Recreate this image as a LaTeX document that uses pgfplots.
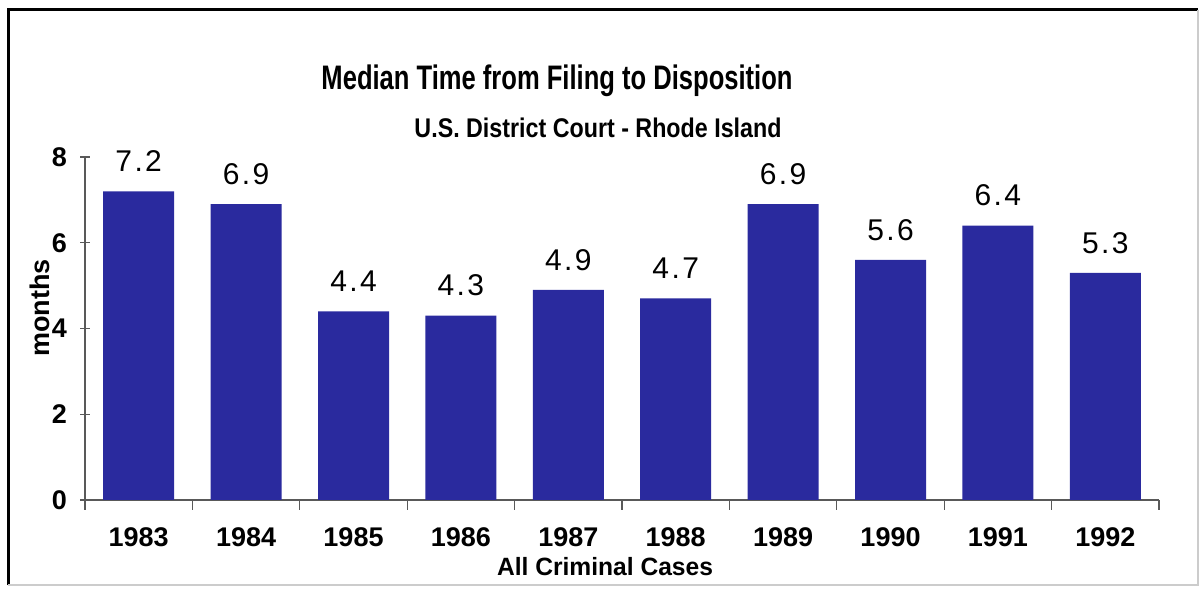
\documentclass[border=0pt]{standalone}
\usepackage{pgfplots}
\pgfplotsset{compat=1.18}
\usepackage{fontspec}
\setmainfont{Liberation Sans}
\usepackage{graphicx}
\definecolor{barblue}{RGB}{42,42,158}
\begin{document}
\begin{tikzpicture}[x=0.5pt,y=0.5pt]
\path[use as bounding box] (0,0) rectangle (1202,588);
\draw[line width=1.5pt] (8,3) -- (8,578) -- (1198,578);
\draw[gray!40, line width=0.6pt] (1198,578) -- (1198,3) -- (8,3);
\begin{axis}[
  at={(42.5pt,44pt)}, anchor=south west,
  scale only axis, width=537pt, height=171.5pt,
  xmin=-0.5, xmax=9.5, ymin=0, ymax=8,
  clip=false,
  axis x line*=bottom, axis y line*=left,
  axis line style={black!65, line width=0.6pt, -},
  xtick={0,...,9},
  xticklabels={1983,1984,1985,1986,1987,1988,1989,1990,1991,1992},
  major x tick style={draw=none},
  minor xtick={-0.5,0.5,...,9.5},
  minor x tick style={black!65, line width=0.6pt},
  minor tick length=5pt,
  ytick={0,2,4,6,8},
  y tick style={black!65, line width=0.6pt},
  major tick length=5pt,
  tick align=center,
  /pgf/number format/assume math mode=true,
  ticklabel style={font=\fontsize{13.5}{16}\selectfont\bfseries},
  xticklabel style={yshift=-5.5pt},
  yticklabel style={xshift=-3pt},
  ybar, bar width=35.5pt,
  point meta=explicit symbolic,
  nodes near coords,
  nodes near coords style={anchor=center, yshift=15pt, font=\fontsize{15}{18}\selectfont\addfontfeatures{LetterSpace=8}, text=black},
]
\addplot[fill=barblue, draw=none] coordinates {
  (0,7.2) [7.2]
  (1,6.9) [6.9]
  (2,4.4) [4.4]
  (3,4.3) [4.3]
  (4,4.9) [4.9]
  (5,4.7) [4.7]
  (6,6.9) [6.9]
  (7,5.6) [5.6]
  (8,6.4) [6.4]
  (9,5.3) [5.3]
};
\end{axis}
\node[font=\fontsize{17}{20}\selectfont\bfseries] at (557,507) {\resizebox{235.5pt}{\height}{Median Time from Filing to Disposition}};
\node[font=\fontsize{13.5}{16}\selectfont\bfseries] at (598,460) {\resizebox{183.5pt}{\height}{U.S. District Court - Rhode Island}};
\node[font=\fontsize{12.5}{14}\selectfont\bfseries] at (605,21) {\resizebox{108pt}{\height}{All Criminal Cases}};
\node[font=\fontsize{13.5}{16}\selectfont\bfseries, rotate=90] at (40,280) {months};
\end{tikzpicture}
\end{document}
